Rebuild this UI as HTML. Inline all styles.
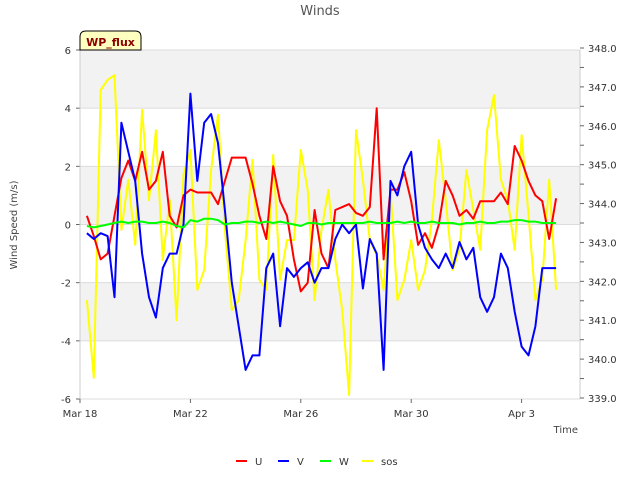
<!DOCTYPE html>
<html><head><meta charset="utf-8"><style>
body{margin:0;background:#fff;font-family:"Liberation Sans","DejaVu Sans",sans-serif}
svg text{font-family:"DejaVu Sans","Liberation Sans",sans-serif}
</style></head><body>
<svg id="chart" width="640" height="480" xmlns="http://www.w3.org/2000/svg">
<text x="320" y="15" text-anchor="middle" font-size="13" fill="#555">Winds</text>
<g id="bands"></g><g id="axes"></g><g id="series"></g>
<text transform="translate(17,225) rotate(-90)" text-anchor="middle" font-size="10" fill="#444">Wind Speed (m/s)</text>
<text x="578" y="433" text-anchor="end" font-size="10" fill="#444">Time</text>
<g>
<path d="M80,50 L80,37 Q80,31 86,31 L135,31 Q141,31 141,37 L141,50 Z" fill="#ffffc0" stroke="#000" stroke-width="1"/>
<text x="110.5" y="46" text-anchor="middle" font-size="11" font-weight="bold" fill="#8b0000">WP_flux</text>
</g>
<g id="legend"></g>
</svg>
<script>
const dayStart = 0.25, dayStep = 0.25;
const xTickLabels = ["Mar 18","Mar 22","Mar 26","Mar 30","Apr 3"];
const xTickDays = [0,4,8,12,16];
const yTicks = [-6,-4,-2,0,2,4,6];
const y2Ticks = [339,340,341,342,343,344,345,346,347,348];
const seriesU = [0.3,-0.4,-1.2,-1.0,0.3,1.6,2.2,1.5,2.5,1.2,1.5,2.5,0.3,-0.1,1.0,1.2,1.1,1.1,1.1,0.7,1.5,2.3,2.3,2.3,1.4,0.3,-0.5,2.0,0.8,0.3,-1.2,-2.3,-2.0,0.5,-1.0,-1.5,0.5,0.6,0.7,0.4,0.3,0.6,4.0,-1.2,1.2,1.2,1.8,0.8,-0.7,-0.3,-0.8,0.0,1.5,1.0,0.3,0.5,0.2,0.8,0.8,0.8,1.1,0.7,2.7,2.2,1.5,1.0,0.8,-0.5,0.9];
const seriesV = [-0.3,-0.5,-0.3,-0.4,-2.5,3.5,2.5,1.5,-1.0,-2.5,-3.2,-1.5,-1.0,-1.0,0.0,4.5,1.5,3.5,3.8,2.8,0.5,-2.0,-3.5,-5.0,-4.5,-4.5,-1.5,-1.0,-3.5,-1.5,-1.8,-1.5,-1.3,-2.0,-1.5,-1.5,-0.5,0.0,-0.3,0.0,-2.2,-0.5,-1.0,-5.0,1.5,1.0,2.0,2.5,0.0,-0.8,-1.2,-1.5,-1.0,-1.5,-0.6,-1.2,-0.8,-2.5,-3.0,-2.5,-1.0,-1.5,-3.0,-4.2,-4.5,-3.5,-1.5,-1.5,-1.5];
const seriesW = [-0.05,-0.1,-0.05,0.0,0.05,0.1,0.05,0.1,0.1,0.05,0.05,0.1,0.05,-0.05,-0.1,0.15,0.1,0.2,0.2,0.15,0.0,0.05,0.05,0.1,0.1,0.05,0.1,0.05,0.1,0.05,0.0,-0.05,0.05,0.05,0.0,0.05,0.05,0.05,0.05,0.05,0.05,0.1,0.05,0.05,0.05,0.1,0.05,0.1,0.05,0.05,0.1,0.05,0.05,0.05,0.0,0.05,0.05,0.1,0.05,0.05,0.1,0.1,0.15,0.15,0.1,0.1,0.05,0.05,0.05];
const seriesSos = [341.52,339.52,346.92,347.18,347.3,343.32,344.61,342.94,346.41,344.09,345.89,342.55,344.09,341.0,344.74,345.38,341.78,342.29,344.86,346.28,343.32,341.26,341.52,343.06,345.12,342.04,341.78,345.25,342.04,343.06,343.06,345.38,344.35,341.52,343.32,344.35,342.55,341.26,339.08,345.89,344.61,343.06,342.68,341.78,344.35,341.52,342.04,343.06,341.78,342.29,343.58,345.63,344.09,342.29,342.81,344.86,343.84,342.81,345.89,346.79,344.61,344.09,342.81,345.76,343.71,341.52,342.04,344.61,341.78];

const NS="http://www.w3.org/2000/svg";
const L=80,R=580,T=50,B=399;
const xs=d=>L+d*27.6;
const ys=v=>T+(6-v)*(B-T)/12;
const y2s=v=>48+(348-v)*(398-48)/9;
function mk(tag,attrs,parent){const e=document.createElementNS(NS,tag);for(const k in attrs)e.setAttribute(k,attrs[k]);parent.appendChild(e);return e;}
const bands=document.getElementById('bands'),axes=document.getElementById('axes'),ser=document.getElementById('series'),leg=document.getElementById('legend');
const bg=mk('rect',{x:L,y:T,width:R-L,height:B-T,fill:'#fff'},bands);


for(let i=0;i<yTicks.length-1;i++){
  const lo=yTicks[i],hi=yTicks[i+1];
  if(i%2===1){const b=mk('rect',{x:L,y:ys(hi),width:R-L,height:ys(lo)-ys(hi),fill:'#f2f2f2'},bands);
  
  }
}
yTicks.forEach(v=>{
  mk('line',{x1:L,x2:R,y1:ys(v),y2:ys(v),stroke:'#dcdcdc','stroke-width':1},bands);
  mk('line',{x1:L-4,x2:L,y1:ys(v),y2:ys(v),stroke:'#666'},axes);
  const t=mk('text',{x:L-9,y:ys(v)+4,'text-anchor':'end','font-size':10,fill:'#333'},axes);t.textContent=v;
  
  
});
mk('line',{x1:L,x2:L,y1:T,y2:B,stroke:'#ccc'},axes);
mk('line',{x1:R,x2:R,y1:T,y2:B,stroke:'#ccc'},axes);
y2Ticks.forEach((v,i)=>{
  mk('line',{x1:R,x2:R+4,y1:y2s(v),y2:y2s(v),stroke:'#666'},axes);
  if(i<y2Ticks.length-1)mk('line',{x1:R,x2:R+4,y1:y2s(v+0.5),y2:y2s(v+0.5),stroke:'#666'},axes);
  const t=mk('text',{x:R+8,y:y2s(v)+4,'font-size':10,fill:'#333'},axes);t.textContent=v.toFixed(1);
  
  
});
xTickDays.forEach((d,i)=>{
  mk('line',{x1:xs(d),x2:xs(d),y1:B,y2:B+4,stroke:'#666'},axes);
  const t=mk('text',{x:xs(d),y:B+18,'text-anchor':'middle','font-size':10,fill:'#333'},axes);t.textContent=xTickLabels[i];
  
  
});
function line(vals,scale,color,name){
  const pts=vals.map((v,i)=>xs(dayStart+i*dayStep).toFixed(1)+','+scale(v).toFixed(1)).join(' ');
  const p=mk('polyline',{points:pts,fill:'none',stroke:color,'stroke-width':2,'stroke-linejoin':'round'},ser);
  
  
}
line(seriesSos,y2s,'#ffff00','sos-line');
line(seriesU,ys,'#ff0000','u-line');
line(seriesV,ys,'#0000ff','v-line');
line(seriesW,ys,'#00ff00','w-line');
const legItems=[['U','#ff0000',236],['V','#0000ff',278],['W','#00ff00',320],['sos','#ffff00',362]];
legItems.forEach(([n,c,x])=>{
  const g=mk('g',{},leg);
  
  
  mk('line',{x1:x,x2:x+11,y1:461,y2:461,stroke:c,'stroke-width':2},g);
  const t=mk('text',{x:x+19,y:465,'font-size':10,fill:'#333'},g);t.textContent=n;
});
</script>
</body></html>
